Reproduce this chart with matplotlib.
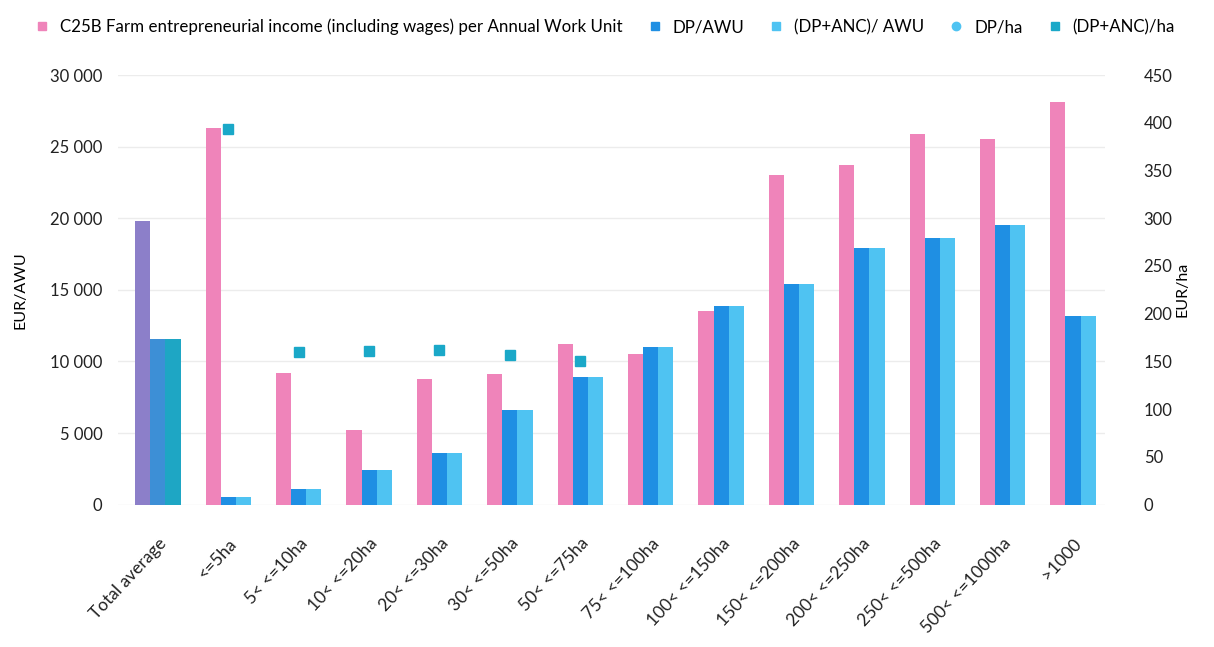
import matplotlib.pyplot as plt
import numpy as np
from matplotlib.lines import Line2D
from matplotlib.ticker import FuncFormatter

plt.rcParams['font.family'] = ['Lato', 'DejaVu Sans']

### Data ###
categories = ['Total average', '<=5ha', '5< <=10ha', '10< <=20ha', '20< <=30ha',
              '30< <=50ha', '50< <=75ha', '75< <=100ha', '100< <=150ha',
              '150< <=200ha', '200< <=250ha', '250< <=500ha', '500< <=1000ha', '>1000']

income_awu = [19800, 26300, 9200, 5200, 8800, 9100, 11200, 10500, 13500,
              23000, 23700, 25900, 25500, 28100]
dp_awu = [11600, 500, 1100, 2400, 3600, 6600, 8900, 11000, 13900,
          15400, 17900, 18600, 19500, 13200]
dp_anc_awu = [11600, 500, 1100, 2400, 3600, 6600, 8900, 11000, 13900,
              15400, 17900, 18600, 19500, 13200]
dp_ha = [np.nan] * 14
dp_anc_ha = [np.nan, 393, 160, 161, 162, 157, 150, np.nan, np.nan,
             np.nan, np.nan, np.nan, np.nan, np.nan]

### Plotting ###
pink = '#ef84ba'
blue = '#1f8fe3'
light = '#4fc3f2'
teal = '#1aa8c8'

fig = plt.figure(figsize=(12.14, 6.47), dpi=100)
ax = fig.add_axes([0.097, 0.22, 0.813, 0.664])
ax2 = ax.twinx()

x = np.arange(len(categories))
w = 0.215
c1 = ['#8c7fc9'] + [pink] * 13
c2 = ['#3d8fd6'] + [blue] * 13
c3 = ['#1ea6c4'] + [light] * 13
ax.bar(x - w, income_awu, w, color=c1, zorder=2)
ax.bar(x, dp_awu, w, color=c2, zorder=2)
ax.bar(x + w, dp_anc_awu, w, color=c3, zorder=2)

ax2.plot(x, dp_ha, 'o', color=light, markersize=7)
ax2.plot(x, dp_anc_ha, 's', color=teal, markersize=7)

ax.set_ylim(0, 30000)
ax2.set_ylim(0, 450)
ax.set_xlim(-0.57, 13.45)
ax.set_yticks(np.arange(0, 30001, 5000))
ax2.set_yticks(np.arange(0, 451, 50))
ax.yaxis.set_major_formatter(FuncFormatter(lambda v, p: f'{int(v):,}'.replace(',', ' ')))
ax.grid(axis='y', color='#ececec', linewidth=1, zorder=0)
ax.set_axisbelow(True)

for a in (ax, ax2):
    for s in a.spines.values():
        s.set_visible(False)
ax.tick_params(axis='y', length=0, labelsize=12, colors='#222222', pad=11)
ax2.tick_params(axis='y', length=0, labelsize=12, colors='#222222', pad=28)

ax.set_xticks(x)
ax.set_xticklabels(categories, rotation=47, ha='right', rotation_mode='anchor', fontsize=12.5)
ax.tick_params(axis='x', length=0, pad=22, colors='#222222')
ax.set_ylabel('EUR/AWU', fontsize=11.5, labelpad=16)
ax2.set_ylabel('EUR/ha', fontsize=11.5, labelpad=2)

handles = [
    Line2D([], [], marker='s', ls='', color=pink, markersize=6),
    Line2D([], [], marker='s', ls='', color=blue, markersize=6),
    Line2D([], [], marker='s', ls='', color=light, markersize=6),
    Line2D([], [], marker='o', ls='', color=light, markersize=6),
    Line2D([], [], marker='s', ls='', color=teal, markersize=6),
]
labels = ['C25B Farm entrepreneurial income (including wages) per Annual Work Unit',
          'DP/AWU', '(DP+ANC)/ AWU', 'DP/ha', '(DP+ANC)/ha']
fig.legend(handles, labels, loc='upper left', bbox_to_anchor=(0.008, 0.995), ncol=5,
           frameon=False, fontsize=12.2, handletextpad=0.05, columnspacing=0.9)

plt.savefig('out.png')
